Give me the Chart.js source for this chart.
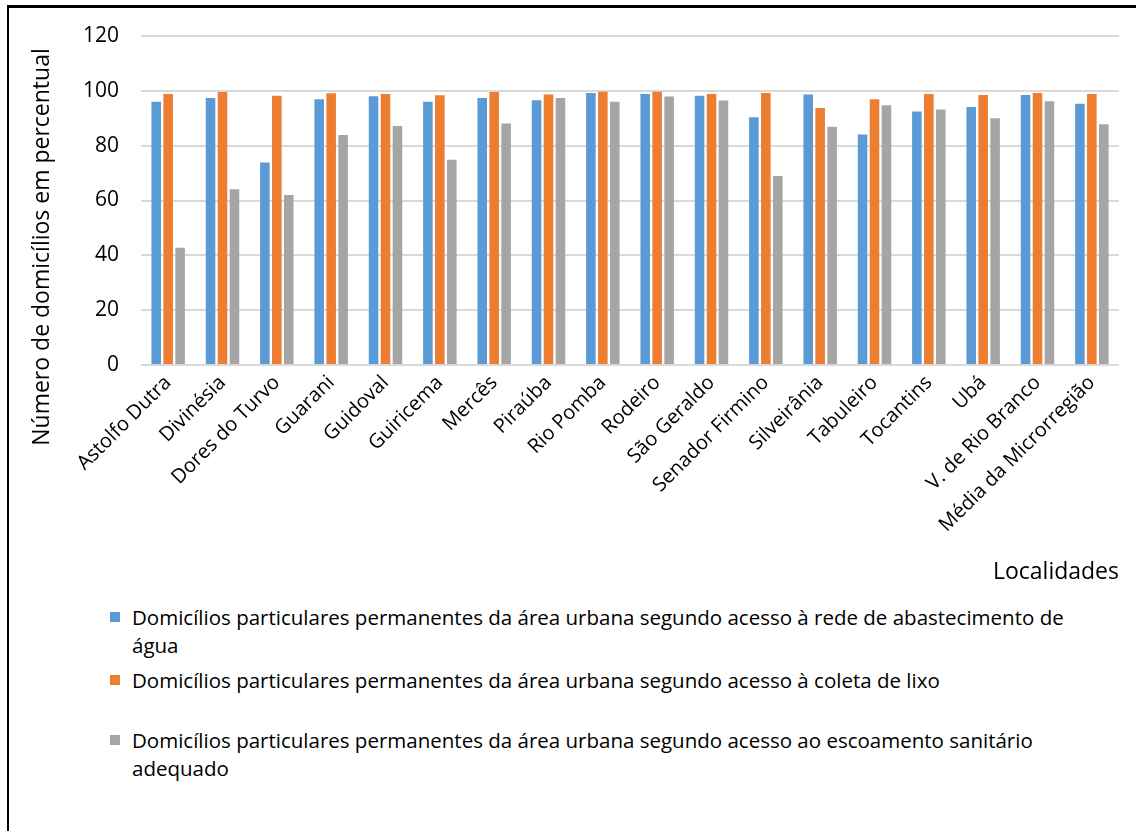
<!DOCTYPE html>
<html>
<head>
<meta charset="utf-8">
<script src="https://cdn.jsdelivr.net/npm/chart.js@4.4.1/dist/chart.umd.min.js"></script>
<style>
  body { margin: 0; background: #fff; font-family: 'Open Sans', sans-serif; overflow: hidden; }
  #frame { position: absolute; left: 7px; top: 5px; width: 1200px; height: 900px; border-left: 2px solid #000; border-top: 3px solid #000; }
  #wrap { position: absolute; left: 0; top: 0; width: 1136px; height: 600px; }
  #legend { position: absolute; left: 0; top: 0; }
  .item { position: absolute; left: 110px; width: 1000px; font-size: 20.5px; line-height: 28px; color: #000; }
  .item .box { position: absolute; left: 0; top: 9px; width: 10px; height: 10px; }
  .item .txt { margin-left: 22px; width: 960px; }
</style>
</head>
<body>
<div id="frame"></div>
<div id="wrap"><canvas id="chart"></canvas></div>
<div id="legend"></div>
<script>
const localidades = ['Astolfo Dutra', 'Divinésia', 'Dores do Turvo', 'Guarani', 'Guidoval', 'Guiricema',
    'Mercês', 'Piraúba', 'Rio Pomba', 'Rodeiro', 'São Geraldo', 'Senador Firmino', 'Silveirânia',
    'Tabuleiro', 'Tocantins', 'Ubá', 'V. de Rio Branco', 'Média da Microrregião'];

const agua = [96.0, 97.4, 73.9, 96.9, 98.0, 96.0, 97.4, 96.6, 99.2, 98.8, 98.2, 90.4, 98.7, 84.1, 92.5, 94.1, 98.5, 95.3];
const lixo = [98.8, 99.6, 98.2, 99.1, 98.8, 98.4, 99.6, 98.7, 99.7, 99.7, 98.8, 99.2, 93.7, 96.9, 98.8, 98.5, 99.2, 98.8];
const esgoto = [42.8, 64.1, 62.0, 83.9, 87.2, 74.9, 88.1, 97.4, 96.0, 97.9, 96.5, 68.9, 86.9, 94.7, 93.2, 90.0, 96.2, 87.8];

const seriesNames = [
    'Domicílios particulares permanentes da área urbana segundo acesso à rede de abastecimento de água',
    'Domicílios particulares permanentes da área urbana segundo acesso à coleta de lixo',
    'Domicílios particulares permanentes da área urbana segundo acesso ao escoamento sanitário adequado'
];
const colors = ['#5B9BD5', '#ED7D31', '#A5A5A5'];
const yTicks = [0, 20, 40, 60, 80, 100, 120];
const yTitle = 'Número de domicílios em percentual';
const xTitle = 'Localidades';

// y axis title drawn by hand so it sits where Excel put it
const yTitlePlugin = {
    id: 'yTitle',
    afterDraw(chart) {
        const ctx = chart.ctx;
        ctx.save();
        ctx.translate(42, 247);
        ctx.rotate(-Math.PI / 2);
        ctx.font = '23px "Open Sans"';
        ctx.fillStyle = '#000';
        ctx.textAlign = 'center';
        ctx.textBaseline = 'middle';
        ctx.fillText(yTitle, 0, 0);
        ctx.restore();
    }
};

const ctx = document.getElementById('chart').getContext('2d');
const myChart = new Chart(ctx, {
    type: 'bar',
    data: {
        labels: localidades,
        datasets: [agua, lixo, esgoto].map((d, i) => ({
            label: seriesNames[i],
            data: d,
            backgroundColor: colors[i],
            categoryPercentage: 0.66,
            barPercentage: 0.8
        }))
    },
    options: {
        responsive: true,
        maintainAspectRatio: false,
        animation: false,
        layout: { padding: { left: 20, right: 17, top: 36, bottom: 0 } },
        plugins: {
            legend: { display: false },
            tooltip: { enabled: false }
        },
        scales: {
            x: {
                grid: { display: false, drawTicks: false },
                border: { display: false },
                ticks: {
                    color: '#000',
                    font: { family: 'Open Sans', size: 20 },
                    autoSkip: false,
                    maxRotation: 45,
                    minRotation: 45,
                    padding: 6
                },
                title: {
                    display: true,
                    text: xTitle,
                    align: 'end',
                    color: '#000',
                    font: { family: 'Open Sans', size: 23 },
                    padding: { top: 0, bottom: 14 }
                },
                afterFit(scale) { scale.height = 235; }
            },
            y: {
                min: 0,
                max: 120,
                grid: { color: '#D9D9D9', lineWidth: 2, drawTicks: false },
                border: { display: false },
                afterBuildTicks(scale) { scale.ticks = yTicks.map(v => ({ value: v })); },
                ticks: {
                    color: '#000',
                    font: { family: 'Open Sans', size: 21 },
                    padding: 22
                },
                afterFit(scale) { scale.width = 121; }
            }
        }
    },
    plugins: [yTitlePlugin]
});

// legend below the chart, built from the datasets
const legendTops = [603, 666, 726];
const legendEl = document.getElementById('legend');
myChart.data.datasets.forEach((ds, i) => {
    const item = document.createElement('div');
    item.className = 'item';
    item.style.top = legendTops[i] + 'px';
    item.innerHTML = '<span class="box" style="background:' + ds.backgroundColor + '"></span><div class="txt">' + ds.label + '</div>';
    legendEl.appendChild(item);
});
</script>
</body>
</html>
